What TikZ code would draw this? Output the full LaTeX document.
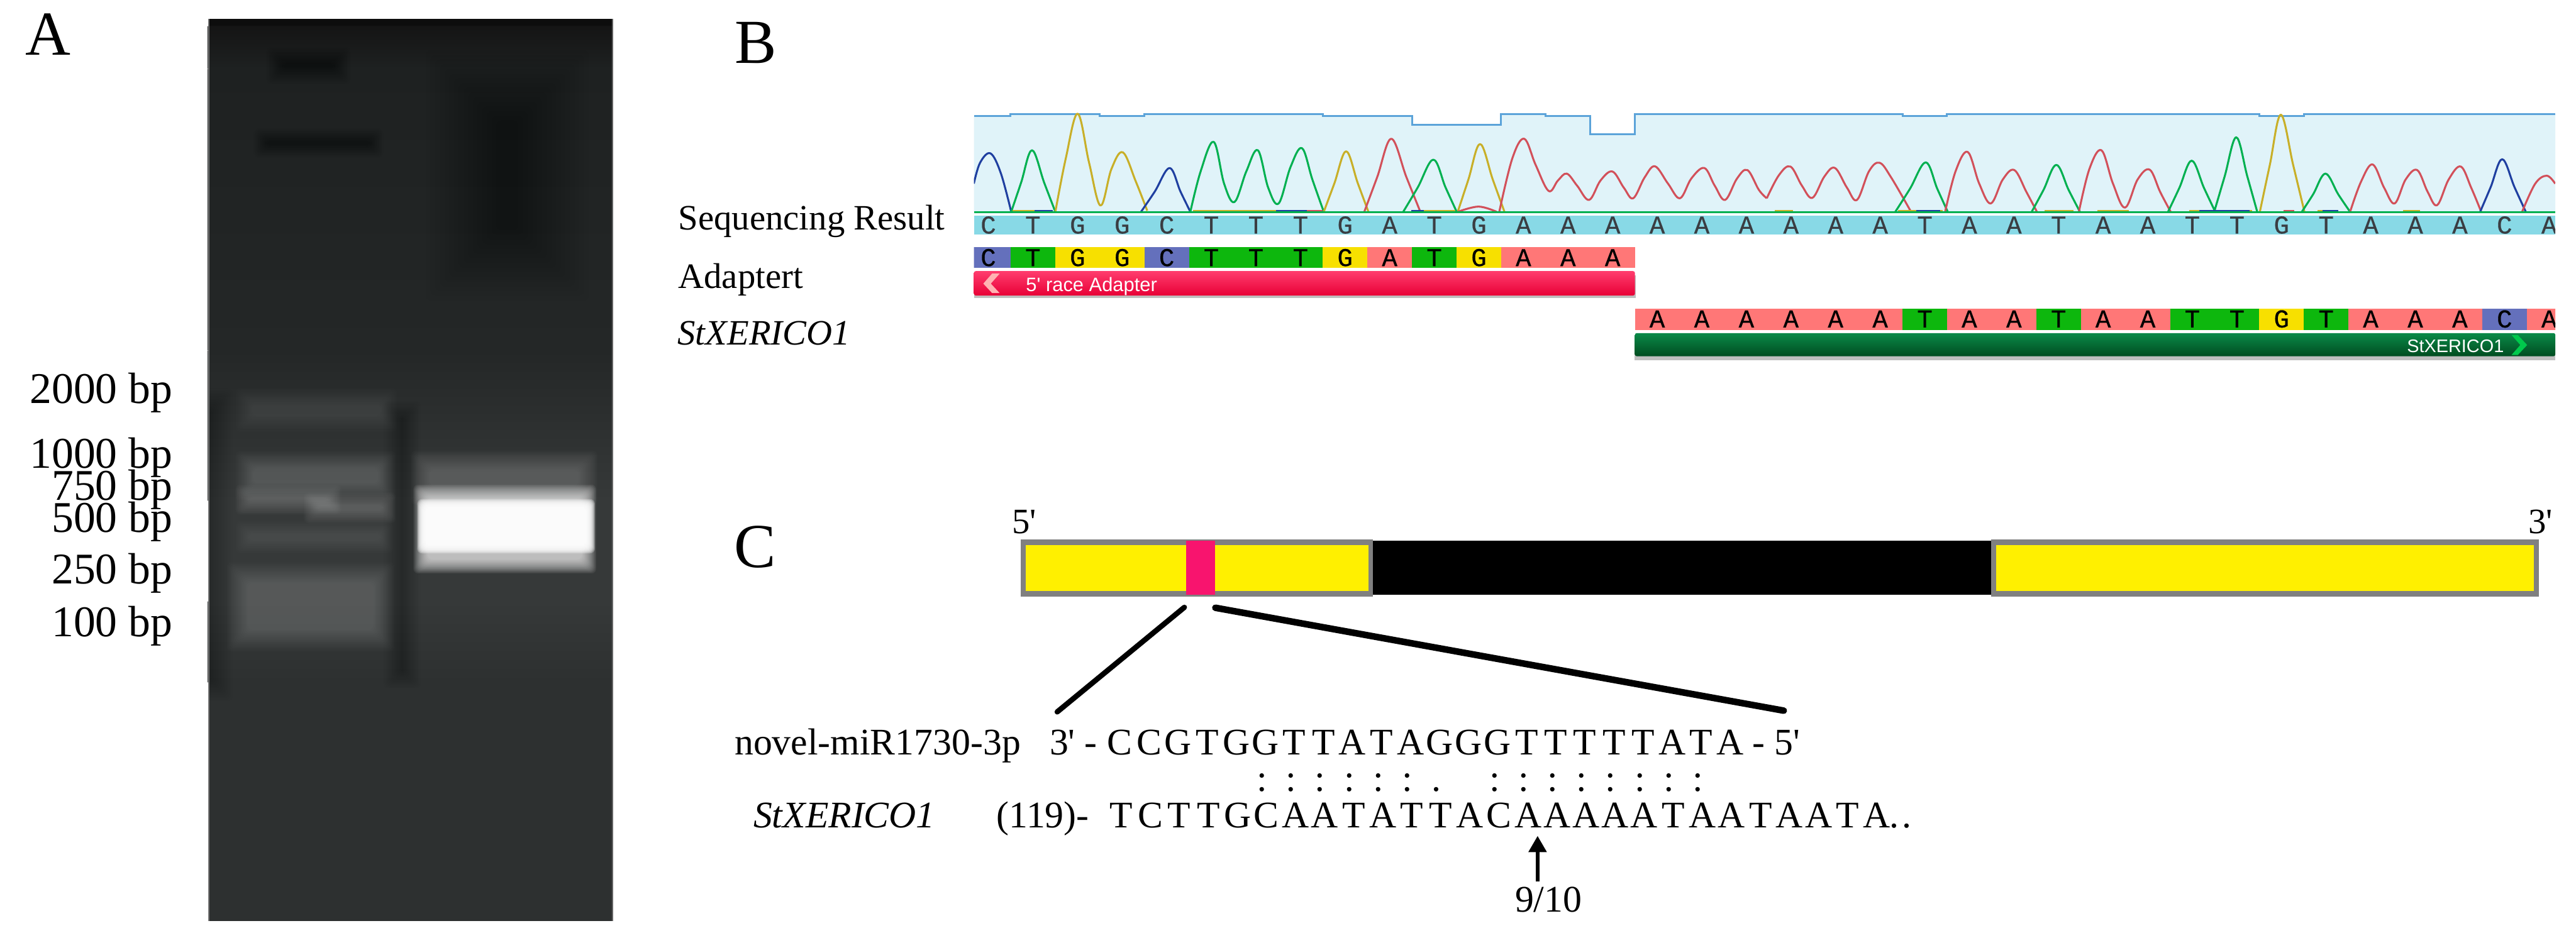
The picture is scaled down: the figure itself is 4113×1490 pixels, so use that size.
\documentclass[tikz,border=0pt]{standalone}
\usepackage{fontspec}
\usetikzlibrary{arrows.meta}
\setmainfont{Liberation Serif}
\newfontfamily\rawser{Liberation Serif}
\newfontfamily\monof[FakeBold=0.5]{Liberation Mono}
\newfontfamily\sansf{Liberation Sans}
\newcommand\fsz[1]{\fontsize{#1}{#1}\selectfont}
\def\seqgo#1{\ifx#1\relax\else\makebox[46.4pt]{#1}\expandafter\seqgo\fi}
\definecolor{baseA}{HTML}{FF7777}
\definecolor{baseT}{HTML}{0DB70D}
\definecolor{baseG}{HTML}{F7E000}
\definecolor{baseC}{HTML}{6470BC}
\definecolor{readbar}{HTML}{88D9E6}
\definecolor{chrombg}{HTML}{E0F3F9}
\definecolor{qual}{HTML}{5BA3D9}
\definecolor{trA}{HTML}{D2505A}
\definecolor{trT}{HTML}{00B050}
\definecolor{trG}{HTML}{C8AF28}
\definecolor{trC}{HTML}{1F3FA0}
\definecolor{utr}{HTML}{FFF000}
\definecolor{utredge}{HTML}{808080}
\definecolor{site}{HTML}{F8146E}
\definecolor{pinkT}{HTML}{FF3D6E}
\definecolor{pinkM}{HTML}{FA1050}
\definecolor{pinkB}{HTML}{E80036}
\definecolor{grnT}{HTML}{0A8A48}
\definecolor{grnB}{HTML}{004C20}
\definecolor{gelA}{HTML}{1E2121}
\definecolor{gelB}{HTML}{242727}
\definecolor{gelC}{HTML}{363939}
\definecolor{gelD}{HTML}{2D3030}
\newcommand\softbox[7]{\foreach \k in {0,...,15}{\pgfmathsetmacro\inset{\k*#7/16}
  \fill[#5,opacity=#6,rounded corners=8pt] ({#1+\inset},{#2+\inset}) rectangle ({#3-\inset},{#4-\inset});}}
\newcommand\pk[5]{\draw[trace,#1] plot[smooth,tension=.6] coordinates {(#2,535) ({(#2+#3)/2-1},{(535+#5)/2+8}) (#3,#5) ({(#3+#4)/2+1},{(535+#5)/2+8}) (#4,535)};}
\newcommand\tr[2]{\draw[trace,#1] plot[smooth,tension=.6] coordinates {#2};}
\tikzset{
  tx/.style={anchor=base west,inner sep=0pt,outer sep=0pt,font=\fsz{57}},
  txr/.style={anchor=base east,inner sep=0pt,outer sep=0pt,font=\fsz{70}},
  panel/.style={anchor=base west,inner sep=0pt,outer sep=0pt,font=\fsz{100}},
  seqt/.style={anchor=base west,inner sep=0pt,outer sep=0pt,font=\fsz{60}},
  basel/.style={anchor=base,inner sep=0pt,outer sep=0pt,font=\monof\fsz{41}},
  trace/.style={line width=3.1pt,line join=round},
  zoomline/.style={line cap=round},
}
\begin{document}
\begin{tikzpicture}[x=1pt,y=-1pt]
\useasboundingbox (0,0) rectangle (4113,1490);
\fill[white] (0,0) rectangle (4113,1490);
%% ---------- panel A : gel
\begin{scope}
\clip (332,30) rectangle (979,1471);
\fill[black!95] (332,30) rectangle (979,42);
\shade[top color=black!92,bottom color=gelA] (332,42) rectangle (979,110);
\shade[top color=gelA,bottom color=gelB] (332,110) rectangle (979,560);
\shade[top color=gelB,bottom color=gelC] (332,560) rectangle (979,800);
\fill[gelC] (332,800) rectangle (979,960);
\shade[top color=gelC,bottom color=gelD] (332,960) rectangle (979,1090);
\fill[gelD] (332,1090) rectangle (979,1471);
% dark zones near the wells
\softbox{680}{80}{940}{480}{black}{0.012}{120}
\softbox{425}{75}{560}{135}{black}{0.004}{28}
\softbox{405}{205}{612}{252}{black}{0.008}{22}
% left margin and lane divider
\softbox{290}{620}{372}{1120}{black}{0.003}{40}
\softbox{612}{640}{672}{1100}{black}{0.003}{30}
% ladder
\softbox{376}{620}{634}{690}{white}{0.008}{28}
\softbox{490}{645}{632}{690}{white}{0.004}{20}
\softbox{376}{720}{632}{800}{white}{0.012}{30}
\softbox{376}{774}{545}{822}{white}{0.015}{22}
\softbox{485}{786}{632}{836}{white}{0.015}{22}
\softbox{376}{832}{628}{884}{white}{0.007}{22}
\softbox{362}{898}{630}{1040}{white}{0.012}{36}
% sample lane
\softbox{640}{890}{975}{1030}{white}{0.004}{50}
\softbox{656}{720}{954}{806}{white}{0.014}{32}
\softbox{660}{774}{952}{916}{white}{0.07}{24}
\softbox{666}{797}{950}{884}{white}{0.22}{16}
\fill[white!55!black,opacity=.8] (332,30) rectangle (334,1471);
\fill[white!45!black,opacity=.8] (977,30) rectangle (979,1471);
\end{scope}
\node[panel] (lA) at (41,88) {A};
\node[txr] (m2000) at (275,644) {2000 bp};
\node[txr] (m1000) at (275,748) {1000 bp};
\node[txr] (m750) at (275,799) {750 bp};
\node[txr] (m500) at (275,850) {500 bp};
\node[txr] (m250) at (275,932.5) {250 bp};
\node[txr] (m100) at (275,1017) {100 bp};
%% ---------- panel B
\node[panel] (lB) at (1173,101) {B};
\node[tx] (rowRead) at (1083,367) {Sequencing Result};
\node[tx] (rowAd) at (1083,460) {Adaptert};
\node[tx,font=\fsz{57}\itshape] (rowGene) at (1082,551) {StXERICO1};
% chromatogram background and quality line
\fill[chrombg] (1555,341) -- (1555,185) -- (1613.6,185) -- (1613.6,182) -- (1756,182) -- (1756,185) -- (1827.2,185) -- (1827.2,182) -- (2112,182) -- (2112,185) -- (2254.4,185) -- (2254.4,199) -- (2396.8,199) -- (2396.8,182) -- (2468,182) -- (2468,185) -- (2539.2,185) -- (2539.2,214) -- (2610.4,214) -- (2610.4,182) -- (3037.6,182) -- (3037.6,185) -- (3108.8,185) -- (3108.8,182) -- (3607.2,182) -- (3607.2,185) -- (3678.4,185) -- (3678.4,182) -- (4080,182) -- (4080,341) -- cycle;
\draw[qual,line width=3pt] (1555,185) -- (1613.6,185) -- (1613.6,182) -- (1756,182) -- (1756,185) -- (1827.2,185) -- (1827.2,182) -- (2112,182) -- (2112,185) -- (2254.4,185) -- (2254.4,199) -- (2396.8,199) -- (2396.8,182) -- (2468,182) -- (2468,185) -- (2539.2,185) -- (2539.2,214) -- (2610.4,214) -- (2610.4,182) -- (3037.6,182) -- (3037.6,185) -- (3108.8,185) -- (3108.8,182) -- (3607.2,182) -- (3607.2,185) -- (3678.4,185) -- (3678.4,182) -- (4080,182);
\begin{scope}
\clip (1555,170) rectangle (4080,345);
\begin{scope}[x=0.829pt,y=-0.3333pt,shift={(1857.6,480)}]
\tr{trC}{(18,400) (30,300) (50,255) (70,350) (90,535)}
\pk{trT}{90}{130}{175}{240}
\tr{trG}{(175,535) (195,280) (218,65) (240,300) (262,505) (283,330) (305,250) (330,390) (352,530)}
\pk{trC}{340}{395}{435}{325}
\tr{trT}{(435,535) (455,340) (480,200) (500,400) (520,488) (543,340) (565,240) (585,420) (605,495) (628,320) (650,230) (670,380) (692,535)}
\pk{trG}{692}{735}{778}{245}
\pk{trA}{770}{822}{878}{185}
\pk{trT}{845}{903}{948}{285}
\pk{trG}{950}{993}{1040}{210}
\draw[trace,trA] plot[smooth,tension=.6] coordinates {(950,535) (990,510) (1025,535)};
\tr{trA}{(1030,535) (1055,280) (1078,185) (1100,310) (1125,435) (1143,385) (1160,352) (1180,410) (1203,478) (1225,385) (1248,342) (1270,420) (1288,470) (1310,370) (1330,317) (1355,400) (1378,470) (1400,375) (1425,325) (1445,410) (1465,478) (1488,375) (1508,335) (1530,430) (1545,470)}
\foreach \a/\b/\c in {92/135/trG,135/170/trC,440/600/trG,600/660/trC,660/690/trA,875/945/trG,860/885/trC}{\draw[\c,line width=3pt] (\a,530) -- (\b,530);}
\end{scope}
\begin{scope}[x=0.8375pt,y=-0.3333pt,shift={(3343.3,480)}]
\tr{trA}{(25,470) (48,360) (70,318) (92,410) (112,468) (135,365) (155,325) (178,420) (197,478) (220,340) (240,300) (262,370) (300,535)}
\pk{trT}{270}{328}{370}{298}
\tr{trA}{(365,535) (385,340) (408,248) (430,400) (452,495) (475,380) (497,335) (520,440) (540,535)}
\pk{trT}{530}{577}{622}{310}
\tr{trA}{(620,535) (640,330) (663,240) (685,400) (708,515) (732,380) (755,333) (775,440) (795,535)}
\pk{trT}{790}{835}{880}{290}
\pk{trT}{878}{920}{960}{178}
\pk{trG}{965}{1005}{1050}{70}
\pk{trT}{1045}{1090}{1137}{352}
\tr{trA}{(1137,535) (1158,390) (1180,308) (1202,420) (1222,495) (1243,380) (1265,335) (1285,440) (1303,503) (1325,380) (1348,318) (1368,420) (1387,535)}
\pk{trC}{1385}{1427}{1472}{283}
\tr{trA}{(1465,535) (1490,400) (1512,362) (1528,400)}
\foreach \a/\b/\c in {40/75/trG,275/360/trG,310/355/trC,555/610/trG,655/715/trG,830/950/trG,850/945/trC,1010/1030/trA,1075/1115/trG,1085/1115/trC,1238/1270/trG}{\draw[\c,line width=3pt] (\a,530) -- (\b,530);}
\end{scope}
\end{scope}
\draw[trT,line width=3.6pt] (1555,339) -- (4080,339);
\fill[readbar] (1555,344) rectangle (4080,375);
\def\seqlist{0/C,1/T,2/G,3/G,4/C,5/T,6/T,7/T,8/G,9/A,10/T,11/G,12/A,13/A,14/A,15/A,16/A,17/A,18/A,19/A,20/A,21/T,22/A,23/A,24/T,25/A,26/A,27/T,28/T,29/G,30/T,31/A,32/A,33/A,34/C,35/A}
\begin{scope}
\clip (1555,340) rectangle (4080,580);
\foreach \i/\b in \seqlist {
  \ifnum\i<15
    \fill[base\b] ({1578+71.2*\i-35.6},395) rectangle ({1578+71.2*\i+35.6},428);
  \else
    \fill[base\b] ({1578+71.2*\i-35.6},493) rectangle ({1578+71.2*\i+35.6},527);
  \fi
}
\foreach \i/\b in \seqlist {
  \node[basel,text=black!85!cyan] (s\i) at ({1578+71.2*\i},373) {\b};
  \ifnum\i<15
    \node[basel,text=black] (a\i) at ({1578+71.2*\i},425) {\b};
  \else
    \node[basel,text=black] (g\i) at ({1578+71.2*\i},523) {\b};
  \fi
}
\end{scope}
% feature bars
\fill[black!25] (1555,440) rectangle (2612,476);
\shade[top color=pinkT,middle color=pinkM,bottom color=pinkB,rounded corners=3pt] (1555,433) rectangle (2610.4,472);
\fill[white!70!red] (1596,437) -- (1584,437) -- (1570,453) -- (1584,468) -- (1596,468) -- (1582,453) -- cycle;
\node[anchor=base west,inner sep=0pt,text=white,font=\sansf\fsz{31}] (adName) at (1638,465) {5' race Adapter};
\fill[black!25] (2610,540) rectangle (4080,575);
\shade[top color=grnT,bottom color=grnB,rounded corners=3pt] (2610.4,532) rectangle (4080,569);
\fill[green!70!black!70!cyan] (4010,535) -- (4020,535) -- (4035,551) -- (4020,567) -- (4010,567) -- (4024,551) -- cycle;
\node[anchor=base east,inner sep=0pt,text=white,font=\sansf\fsz{29}] (geneName) at (3998,563) {StXERICO1};
%% ---------- panel C
\node[panel] (lC) at (1172,906) {C};
\node[tx,font=\rawser\fsz{57}] (five) at (1616,852) {5'};
\node[tx,font=\rawser\fsz{57}] (three) at (4037,852) {3'};
\fill[black] (2186,864) rectangle (3182,950);
\fill[utredge] (1630,862) rectangle (2192,953);
\fill[utredge] (3179,862) rectangle (4054,953);
\fill[utr] (1638,871) rectangle (2185,944);
\fill[utr] (3187,871) rectangle (4046,944);
\fill[site] (1894,864) rectangle (1939.5,950);
\coordinate (zl1) at (1891,970);
\coordinate (zl2) at (1688,1137);
\coordinate (zr1) at (1940.5,970.7);
\coordinate (zr2) at (2848,1135);
\draw[zoomline,line width=8.5pt] (zl1) -- (zl2);
\draw[zoomline,line width=10.5pt] (zr1) -- (zr2);
\node[seqt] (mirName) at (1173,1205) {novel-miR1730-3p};
\node[seqt,font=\rawser\fsz{60}] (mirL) at (1676,1205) {3' -};
\node[seqt] (mirSeq) at (1765,1205) {\seqgo CCGTGGTTATAGGGTTTTTATA\relax};
\node[seqt,anchor=base east,font=\rawser\fsz{60}] (mirR) at (2874,1205) {- 5'};
\node[seqt,font=\fsz{60}\itshape] (geneRow) at (1203,1322) {StXERICO1};
\node[seqt] (posn) at (1591,1322) {(119)-};
\node[seqt] (geneSeq) at (1767,1322) {\seqgo TCTTGCAATATTACAAAAATAATAATA\relax\kern-2.5pt.\kern5pt.};
\foreach \k in {0,...,5,8,9,...,15}{\node[seqt,anchor=base] (pc\k) at ({2015+46.4*\k},1264) {:};}
\node[seqt,anchor=base] (pc6) at ({2015+46.4*6},1264) {.};
\node[seqt,anchor=base west] (frac) at (2419,1457) {9/10};
\coordinate (arS) at (2455,1408);
\coordinate (arE) at (2455,1335);
\draw[line width=6pt,-{Stealth[length=26pt,width=28pt,inset=0pt]}] (arS) -- (arE);
\end{tikzpicture}
\end{document}
